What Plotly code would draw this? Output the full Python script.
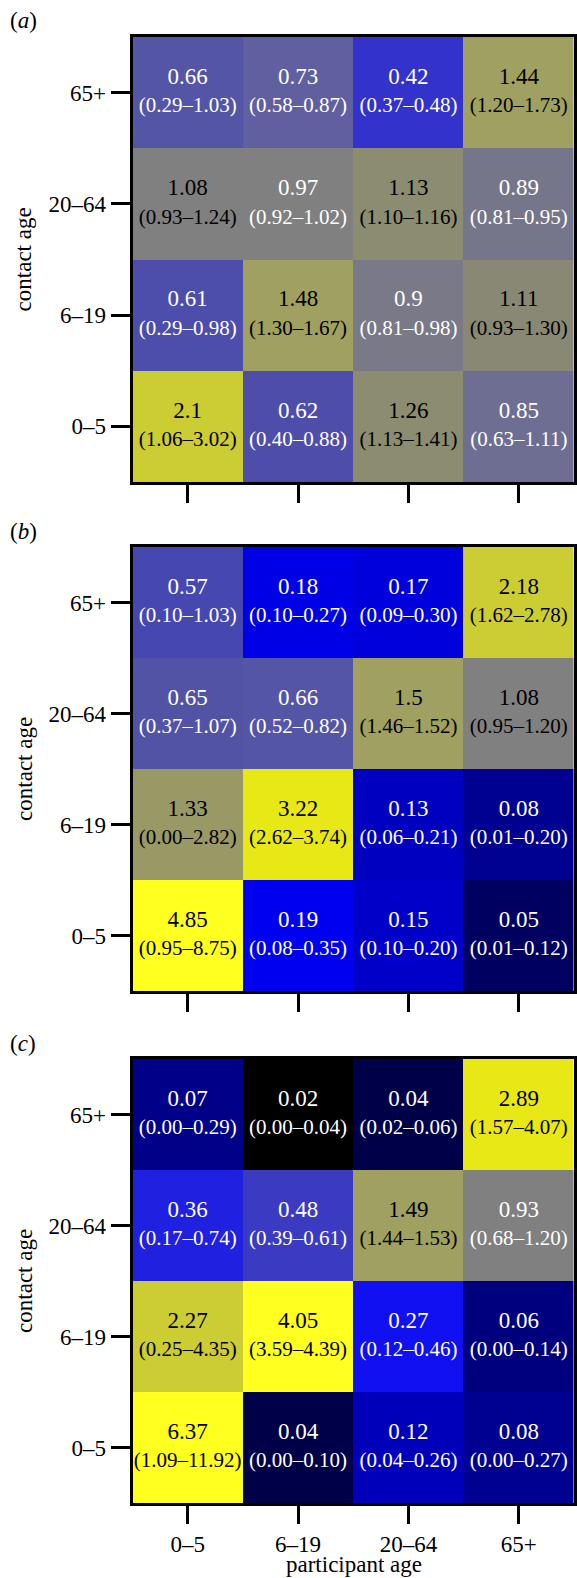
import numpy as np
import plotly.graph_objects as go

ages = ["0–5", "6–19", "20–64", "65+"]  # participant (x) and contact (y) age groups
panels = ["a", "b", "c"]

# rows: contact age 0–5, 6–19, 20–64, 65+ ; columns: participant age 0–5, 6–19, 20–64, 65+
vals_a = [[2.1, 0.62, 1.26, 0.85],
          [0.61, 1.48, 0.9, 1.11],
          [1.08, 0.97, 1.13, 0.89],
          [0.66, 0.73, 0.42, 1.44]]
lo_a = [[1.06, 0.40, 1.13, 0.63],
        [0.29, 1.30, 0.81, 0.93],
        [0.93, 0.92, 1.10, 0.81],
        [0.29, 0.58, 0.37, 1.20]]
hi_a = [[3.02, 0.88, 1.41, 1.11],
        [0.98, 1.67, 0.98, 1.30],
        [1.24, 1.02, 1.16, 0.95],
        [1.03, 0.87, 0.48, 1.73]]

vals_b = [[4.85, 0.19, 0.15, 0.05],
          [1.33, 3.22, 0.13, 0.08],
          [0.65, 0.66, 1.5, 1.08],
          [0.57, 0.18, 0.17, 2.18]]
lo_b = [[0.95, 0.08, 0.10, 0.01],
        [0.00, 2.62, 0.06, 0.01],
        [0.37, 0.52, 1.46, 0.95],
        [0.10, 0.10, 0.09, 1.62]]
hi_b = [[8.75, 0.35, 0.20, 0.12],
        [2.82, 3.74, 0.21, 0.20],
        [1.07, 0.82, 1.52, 1.20],
        [1.03, 0.27, 0.30, 2.78]]

vals_c = [[6.37, 0.04, 0.12, 0.08],
          [2.27, 4.05, 0.27, 0.06],
          [0.36, 0.48, 1.49, 0.93],
          [0.07, 0.02, 0.04, 2.89]]
lo_c = [[1.09, 0.00, 0.04, 0.00],
        [0.25, 3.59, 0.12, 0.00],
        [0.17, 0.39, 1.44, 0.68],
        [0.00, 0.00, 0.02, 1.57]]
hi_c = [[11.92, 0.10, 0.26, 0.27],
        [4.35, 4.39, 0.46, 0.14],
        [0.74, 0.61, 1.53, 1.20],
        [0.29, 0.04, 0.06, 4.07]]

data = [(vals_a, lo_a, hi_a), (vals_b, lo_b, hi_b), (vals_c, lo_c, hi_c)]

# colour scale in log10(value) space: black -> blue -> grey -> yellow
ZMIN, ZMAX = -1.7, 0.8
stops = [(-1.7, "#000000"), (-1.4, "#000048"), (-1.3, "#000060"), (-1.22, "#000080"),
         (-1.1, "#000090"), (-0.9, "#0000C0"), (-0.82, "#0000C8"), (-0.76, "#0000E0"),
         (-0.72, "#0000F0"), (-0.57, "#1010F0"), (-0.44, "#2020E0"), (-0.38, "#3333CC"),
         (-0.28, "#4040BB"), (-0.2, "#5050A8"), (-0.137, "#6060A0"), (-0.06, "#707090"),
         (-0.035, "#808080"), (0.035, "#808080"), (0.05, "#8C8C70"), (0.10, "#8C8C70"),
         (0.125, "#9A9A66"), (0.16, "#A0A060"), (0.18, "#A0A060"), (0.32, "#CCCC33"),
         (0.36, "#CCCC33"), (0.46, "#E8E816"), (0.51, "#E8E816"), (0.6, "#FFFF20"),
         (0.8, "#FFFF20")]
colorscale = [[(z - ZMIN) / (ZMAX - ZMIN), c] for z, c in stops]

W, H = 577, 1578
x0, x1 = 133 / W, 576 / W
tops = [37, 547, 1059]
bots = [482, 991, 1503]
FONT = "Liberation Serif"

fig = go.Figure()
for i, (vals, lo, hi) in enumerate(data):
    v = np.array(vals, dtype=float)
    xa = "x" if i == 0 else f"x{i+1}"
    ya = "y" if i == 0 else f"y{i+1}"
    fig.add_trace(go.Heatmap(
        z=np.log10(v), x=list(range(4)), y=list(range(4)),
        zmin=ZMIN, zmax=ZMAX, colorscale=colorscale, showscale=False,
        xaxis=xa, yaxis=ya, hoverinfo="skip"))
    xs, ys, t1, t2, cols = [], [], [], [], []
    for r in range(4):
        for c in range(4):
            xs.append(c)
            ys.append(r)
            t1.append(str(vals[r][c]))
            t2.append(f"({lo[r][c]:.2f}–{hi[r][c]:.2f})")
            cols.append("white" if vals[r][c] < 1 else "black")
    fig.add_trace(go.Scatter(
        x=xs, y=[y + 0.13 for y in ys], mode="text", text=t1,
        textfont=dict(family=FONT, size=23, color=cols),
        xaxis=xa, yaxis=ya, hoverinfo="skip", showlegend=False))
    fig.add_trace(go.Scatter(
        x=xs, y=[y - 0.13 for y in ys], mode="text", text=t2,
        textfont=dict(family=FONT, size=21, color=cols),
        xaxis=xa, yaxis=ya, hoverinfo="skip", showlegend=False))

    ydom = [1 - bots[i] / H, 1 - tops[i] / H]
    axx = dict(domain=[x0, x1], range=[-0.5, 3.5], anchor=ya,
               tickvals=list(range(4)), ticktext=ages if i == 2 else [""] * 4,
               showticklabels=(i == 2),
               ticks="outside", ticklen=18, tickwidth=2.5, tickcolor="black",
               showline=True, linecolor="black", linewidth=3, mirror=True,
               showgrid=False, zeroline=False,
               tickfont=dict(family=FONT, size=23, color="black"))
    axy = dict(domain=ydom, range=[-0.5, 3.5], anchor=xa,
               tickvals=list(range(4)), ticktext=ages,
               ticks="outside", ticklen=19, tickwidth=2.5, tickcolor="black",
               showline=True, linecolor="black", linewidth=3, mirror=True,
               showgrid=False, zeroline=False,
               tickfont=dict(family=FONT, size=23, color="black"))
    key = "" if i == 0 else str(i + 1)
    fig.layout["xaxis" + key] = axx
    fig.layout["yaxis" + key] = axy

    fig.add_annotation(text=f"(<i>{panels[i]}</i>)", xref="paper", yref="paper",
                       x=8 / W, y=1 - (tops[i] - 16) / H, xanchor="left", yanchor="middle",
                       showarrow=False, font=dict(family=FONT, size=23, color="black"))
    fig.add_annotation(text="contact age", xref="paper", yref="paper",
                       x=24 / W, y=1 - (tops[i] + bots[i]) / 2 / H, textangle=-90,
                       xanchor="center", yanchor="middle", showarrow=False,
                       font=dict(family=FONT, size=23, color="black"))

fig.add_annotation(text="participant age", xref="paper", yref="paper",
                   x=(133 + 577) / 2 / W, y=1 - 1564 / H, xanchor="center", yanchor="middle",
                   showarrow=False, font=dict(family=FONT, size=23, color="black"))

fig.update_layout(width=W, height=H, margin=dict(l=0, r=0, t=0, b=0),
                  paper_bgcolor="white", plot_bgcolor="white", showlegend=False)
fig.write_html("out.html", config={"displayModeBar": False},
               post_script="document.body.style.margin='0';")
